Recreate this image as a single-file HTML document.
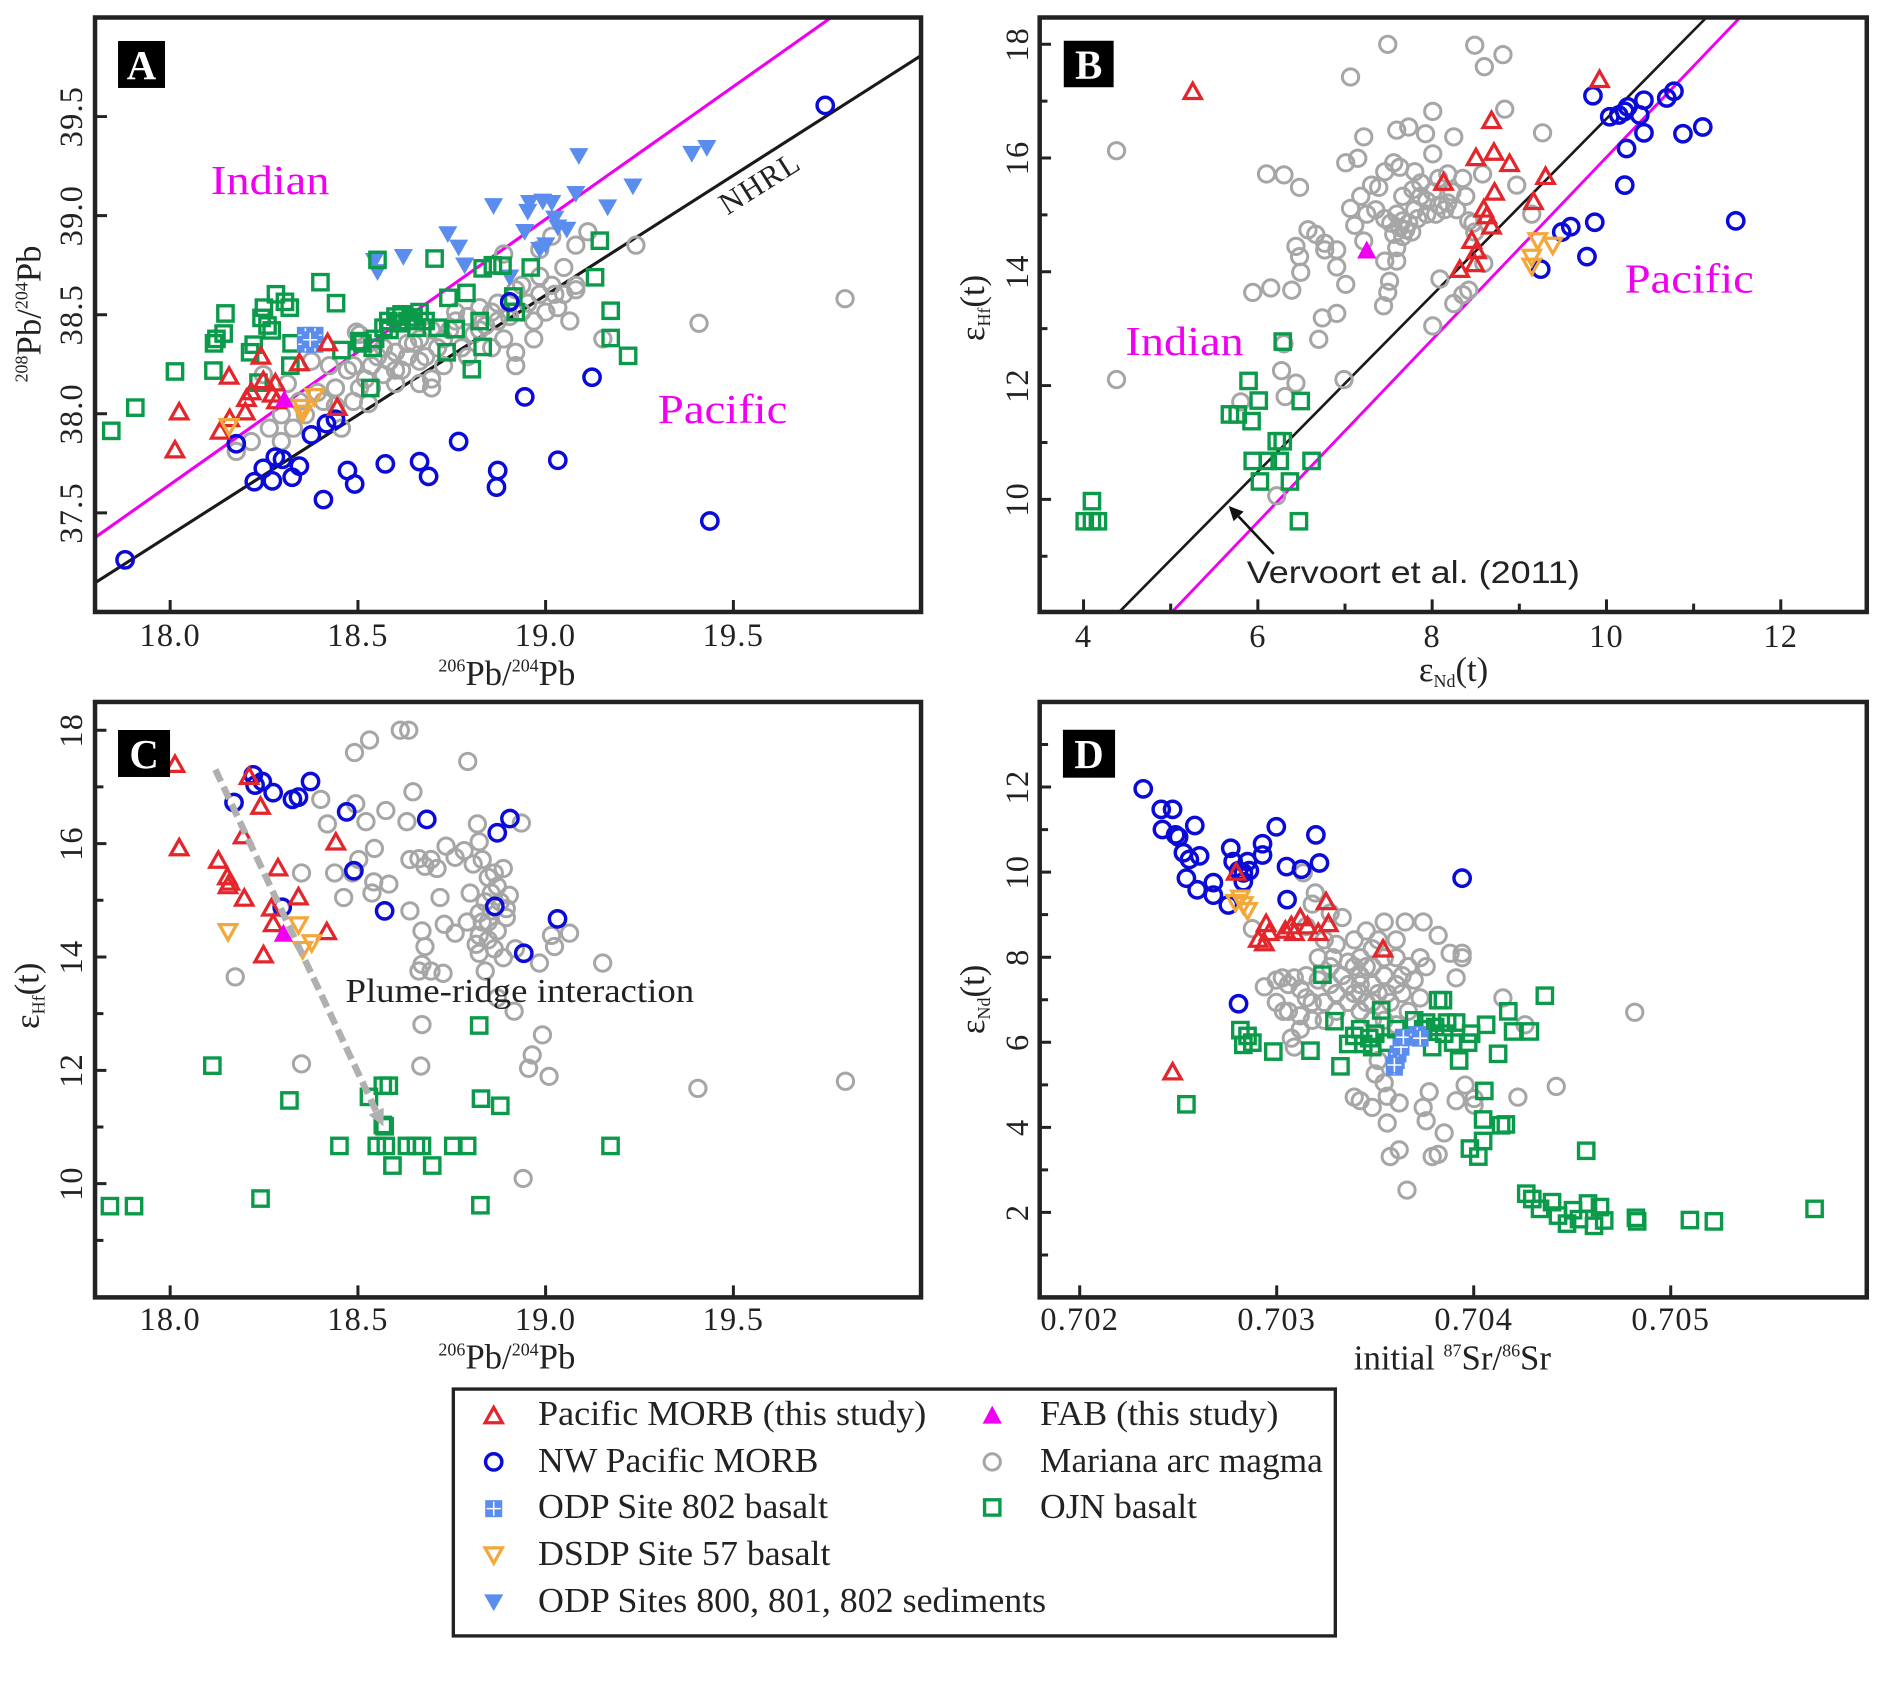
<!DOCTYPE html>
<html><head><meta charset="utf-8"><style>
html,body{margin:0;padding:0;background:#fff;}
svg{display:block;}
text{font-family:"Liberation Serif",serif;fill:#222;}
</style></head><body>
<svg id="s" width="1879" height="1686" viewBox="0 0 1568 1407" preserveAspectRatio="none" xmlns="http://www.w3.org/2000/svg">
<rect width="1568" height="1407" fill="#fff"/>
<defs>
<clipPath id="cA"><rect x="79.3" y="14.6" width="689.3" height="496.1"/></clipPath>
<clipPath id="cB"><rect x="867.6" y="14.6" width="690.2" height="496.1"/></clipPath>
<clipPath id="cC"><rect x="79.3" y="585.8" width="689.3" height="496.9"/></clipPath>
<clipPath id="cD"><rect x="867.6" y="585.8" width="690.2" height="496.9"/></clipPath>
</defs>

<g clip-path="url(#cA)">
<line x1="79.3" y1="448.6" x2="693.6" y2="14.6" stroke="#f000f0" stroke-width="2.6"/>
<line x1="79.3" y1="486.4" x2="768.6" y2="46.4" stroke="#1a1a1a" stroke-width="2.6"/>
</g>
<g clip-path="url(#cB)">
<line x1="934" y1="510.7" x2="1424" y2="14.6" stroke="#1a1a1a" stroke-width="2.2"/>
<line x1="978" y1="510.7" x2="1452" y2="14.6" stroke="#f000f0" stroke-width="2.4"/>
</g>

<g id="gA" clip-path="url(#cA)"></g>
<g id="gB" clip-path="url(#cB)"></g>
<g id="gC" clip-path="url(#cC)"></g>
<g id="gD" clip-path="url(#cD)"></g>

<line x1="179.7" y1="642.2" x2="313.9" y2="927.4" stroke="#b0b0b0" stroke-width="5.5" stroke-dasharray="11 5"/>
<polygon points="320,940 320.2,924.4 307.6,930.4" fill="#b0b0b0"/>

<line x1="1062.9" y1="462.2" x2="1033.6" y2="431" stroke="#111" stroke-width="2.2"/>
<polygon points="1025.4,422.3 1037.8,427.0 1029.4,435.0" fill="#111"/>

<g fill="none" stroke="#222" stroke-width="3.75">
<rect x="79.3" y="14.6" width="689.3" height="496.1"/>
<rect x="867.6" y="14.6" width="690.2" height="496.1"/>
<rect x="79.3" y="585.8" width="689.3" height="496.9"/>
<rect x="867.6" y="585.8" width="690.2" height="496.9"/>
</g>
<g id="ticks" stroke="#222" stroke-width="2.5" fill="none"></g>

<rect x="98.5" y="34.2" width="39.2" height="39.2" fill="#000"/>
<text x="118.1" y="66" text-anchor="middle" font-size="34" font-weight="bold" style="fill:#fff">A</text>
<rect x="887.7" y="34" width="41.6" height="38.8" fill="#000"/>
<text x="908.5" y="65.5" text-anchor="middle" font-size="34" font-weight="bold" style="fill:#fff">B</text>
<rect x="98.5" y="609.2" width="43.4" height="39.2" fill="#000"/>
<text x="120.2" y="641" text-anchor="middle" font-size="34" font-weight="bold" style="fill:#fff">C</text>
<rect x="887" y="609" width="43.5" height="40" fill="#000"/>
<text x="908.7" y="641" text-anchor="middle" font-size="34" font-weight="bold" style="fill:#fff">D</text>

<g font-size="27" text-anchor="middle" letter-spacing="1">
<text x="142" y="539">18.0</text><text x="298.7" y="539">18.5</text><text x="455.3" y="539">19.0</text><text x="612" y="539">19.5</text>
<text x="142" y="1110">18.0</text><text x="298.7" y="1110">18.5</text><text x="455.3" y="1110">19.0</text><text x="612" y="1110">19.5</text>
<text x="904.2" y="540">4</text><text x="1049.7" y="540">6</text><text x="1195.1" y="540">8</text><text x="1340.6" y="540">10</text><text x="1486" y="540">12</text>
<text x="901" y="1110">0.702</text><text x="1065.4" y="1110">0.703</text><text x="1229.8" y="1110">0.704</text><text x="1394.2" y="1110">0.705</text>
<text transform="translate(68.3,428) rotate(-90)">37.5</text>
<text transform="translate(68.3,345.3) rotate(-90)">38.0</text>
<text transform="translate(68.3,262.6) rotate(-90)">38.5</text>
<text transform="translate(68.3,179.9) rotate(-90)">39.0</text>
<text transform="translate(68.3,97.3) rotate(-90)">39.5</text>
<text transform="translate(858,416.7) rotate(-90)">10</text>
<text transform="translate(858,321.8) rotate(-90)">12</text>
<text transform="translate(858,226.8) rotate(-90)">14</text>
<text transform="translate(858,131.9) rotate(-90)">16</text>
<text transform="translate(858,37) rotate(-90)">18</text>
<text transform="translate(68.3,987.8) rotate(-90)">10</text>
<text transform="translate(68.3,893.2) rotate(-90)">12</text>
<text transform="translate(68.3,798.6) rotate(-90)">14</text>
<text transform="translate(68.3,704) rotate(-90)">16</text>
<text transform="translate(68.3,609.4) rotate(-90)">18</text>
<text transform="translate(858,1011.8) rotate(-90)">2</text>
<text transform="translate(858,940.8) rotate(-90)">4</text>
<text transform="translate(858,869.8) rotate(-90)">6</text>
<text transform="translate(858,798.8) rotate(-90)">8</text>
<text transform="translate(858,727.8) rotate(-90)">10</text>
<text transform="translate(858,656.8) rotate(-90)">12</text>
</g>

<g font-size="29" text-anchor="middle">
<text transform="translate(34,262) rotate(-90)"><tspan font-size="15" dy="-11">208</tspan><tspan dy="11">Pb/</tspan><tspan font-size="15" dy="-11">204</tspan><tspan dy="11">Pb</tspan></text>
<text x="423" y="571.5"><tspan font-size="15" dy="-11">206</tspan><tspan dy="11">Pb/</tspan><tspan font-size="15" dy="-11">204</tspan><tspan dy="11">Pb</tspan></text>
<text x="423" y="1142"><tspan font-size="15" dy="-11">206</tspan><tspan dy="11">Pb/</tspan><tspan font-size="15" dy="-11">204</tspan><tspan dy="11">Pb</tspan></text>
<text x="1213" y="568.5">ε<tspan font-size="15" dy="5">Nd</tspan><tspan dy="-5">(t)</tspan></text>
<text transform="translate(821,257) rotate(-90)">ε<tspan font-size="15" dy="5">Hf</tspan><tspan dy="-5">(t)</tspan></text>
<text transform="translate(32,831) rotate(-90)">ε<tspan font-size="15" dy="5">Hf</tspan><tspan dy="-5">(t)</tspan></text>
<text transform="translate(821,834) rotate(-90)">ε<tspan font-size="15" dy="5">Nd</tspan><tspan dy="-5">(t)</tspan></text>
<text x="1212" y="1143">initial <tspan font-size="15" dy="-11">87</tspan><tspan dy="11">Sr/</tspan><tspan font-size="15" dy="-11">86</tspan><tspan dy="11">Sr</tspan></text>
</g>

<text x="176" y="161.7" font-size="34" style="fill:#f000f0" textLength="99" lengthAdjust="spacingAndGlyphs">Indian</text>
<text x="549" y="352.8" font-size="34" style="fill:#f000f0" textLength="108" lengthAdjust="spacingAndGlyphs">Pacific</text>
<text transform="translate(638.5,159.9) rotate(-32.4)" text-anchor="middle" font-size="26" letter-spacing="1">NHRL</text>
<text x="939.2" y="296.2" font-size="34" style="fill:#f000f0" textLength="98.6" lengthAdjust="spacingAndGlyphs">Indian</text>
<text x="1355.8" y="244" font-size="34" style="fill:#f000f0" textLength="107.7" lengthAdjust="spacingAndGlyphs">Pacific</text>
<text x="1040.4" y="486.5" font-size="26" style="font-family:'Liberation Sans',sans-serif;fill:#222" textLength="278" lengthAdjust="spacingAndGlyphs">Vervoort et al. (2011)</text>
<text x="288.3" y="836.4" font-size="28" textLength="291" lengthAdjust="spacingAndGlyphs">Plume-ridge interaction</text>

<rect x="378.3" y="1159.2" width="736" height="206" fill="none" stroke="#222" stroke-width="2.8"/>
<g id="gL"></g>
<g font-size="29">
<text x="449" y="1189.2" textLength="324" lengthAdjust="spacingAndGlyphs">Pacific MORB (this study)</text>
<text x="449" y="1228.4" textLength="234" lengthAdjust="spacingAndGlyphs">NW Pacific MORB</text>
<text x="449" y="1266.8" textLength="242" lengthAdjust="spacingAndGlyphs">ODP Site 802 basalt</text>
<text x="449" y="1306" textLength="244" lengthAdjust="spacingAndGlyphs">DSDP Site 57 basalt</text>
<text x="449" y="1345.2" textLength="424" lengthAdjust="spacingAndGlyphs">ODP Sites 800, 801, 802 sediments</text>
<text x="867.9" y="1189.2" textLength="199" lengthAdjust="spacingAndGlyphs">FAB (this study)</text>
<text x="867.9" y="1228.4" textLength="236" lengthAdjust="spacingAndGlyphs">Mariana arc magma</text>
<text x="867.9" y="1266.8" textLength="131" lengthAdjust="spacingAndGlyphs">OJN basalt</text>
</g>
</svg>
<script>
(function(){
var NS='http://www.w3.org/2000/svg';
function el(p,tag,a){var e=document.createElementNS(NS,tag);for(var k in a)e.setAttribute(k,a[k]);p.appendChild(e);return e;}
var M={A:[142,285,0.5015,97.3,262,0.3725],B:[904.2,238,0.5007,37,100,0.3730],C:[142,287,0.5027,609.4,90,0.3722],D:[901,232,0.5002,656.8,218,0.3729]};
function mp(p,z){var m=M[p];return [m[0]+(z[0]-m[1])*m[2],m[3]+(z[1]-m[4])*m[5]];}
var COL={red:'#e3262b',blue:'#0b0bd8',green:'#0a9a4a',gray:'#a6a6a6',mag:'#f000f0',org:'#f2a83a',lb:'#5b8def'};
function circ(g,x,y,col,sw){el(g,'circle',{cx:x,cy:y,r:6.8,fill:'none',stroke:col,'stroke-width':sw});}
function sq(g,x,y){el(g,'rect',{x:x-6.4,y:y-6.4,width:12.8,height:12.8,fill:'none',stroke:COL.green,'stroke-width':2.8});}
function tri(g,x,y){el(g,'polygon',{points:x+','+(y-7.5)+' '+(x+7.2)+','+(y+5.3)+' '+(x-7.2)+','+(y+5.3),fill:'none',stroke:COL.red,'stroke-width':2.7});}
function itri(g,x,y){el(g,'polygon',{points:x+','+(y+7.5)+' '+(x+7.2)+','+(y-5.3)+' '+(x-7.2)+','+(y-5.3),fill:'none',stroke:COL.org,'stroke-width':2.7});}
function ftri(g,x,y){el(g,'polygon',{points:x+','+(y-9)+' '+(x+8)+','+(y+6)+' '+(x-8)+','+(y+6),fill:COL.mag});}
function dtri(g,x,y){el(g,'polygon',{points:x+','+(y+7.5)+' '+(x+8)+','+(y-6.5)+' '+(x-8)+','+(y-6.5),fill:COL.lb});}
function gsq(g,x,y){el(g,'rect',{x:x-6.5,y:y-6.5,width:13,height:13,fill:COL.lb});
 el(g,'path',{d:'M'+(x-6.5)+' '+y+'H'+(x+6.5)+'M'+x+' '+(y-6.5)+'V'+(y+6.5),stroke:'#fff','stroke-width':1.3});
 el(g,'rect',{x:x-6.5,y:y-6.5,width:13,height:13,fill:'none',stroke:COL.lb,'stroke-width':1.2});}
function draw(p,arr,fn,col,sw){var g=document.getElementById('g'+p);for(var i=0;i<arr.length;i++){var q=mp(p,arr[i]);fn(g,q[0],q[1],col,sw);}}

var grayA=[[395,1012],[470,990],[490,960],[510,930],[540,900],[560,870],[570,960],[550,820],[590,900],[600,870],[610,850],[600,750],[620,820],[630,800],[640,840],[650,810],[660,790],[670,830],[680,800],[690,770],[700,760],[710,800],[720,850],[730,780],[740,760],[750,740],[760,720],[770,780],[780,710],[790,750],[800,690],[810,730],[820,700],[830,680],[840,760],[850,710],[860,820],[870,700],[880,680],[890,720],[900,660],[910,700],[920,640],[930,690],[940,660],[950,720],[960,650],[870,640],[900,560],[920,530],[960,550],[980,520],[840,570],[1060,550],[1005,760],[1165,725],[1408,670],[440,840],[480,860],[520,810],[560,870],[580,830],[615,905],[660,830],[700,860],[720,870],[925,660],[890,760],[860,790],[595,745],[640,780],[680,770],[720,740],[760,700],[800,740],[820,780],[780,800],[740,820],[700,810],[660,860],[620,870],[590,820],[560,910],[530,880],[500,900],[470,930],[450,960],[420,990],[900,620],[940,600],[960,640],[860,650],[830,720],[850,680]];
var greenA=[[187,966],[227,914],[293,833],[357,831],[358,770],[362,760],[374,748],[377,703],[418,790],[424,773],[432,858],[437,713],[441,690],[447,730],[454,741],[461,660],[476,677],[484,690],[487,770],[485,820],[535,633],[561,680],[570,785],[618,870],[600,765],[605,770],[630,583],[622,780],[626,760],[640,735],[648,720],[660,710],[670,705],[680,720],[690,712],[700,700],[710,720],[725,580],[730,735],[745,790],[748,668],[760,738],[778,657],[787,828],[800,720],[805,778],[805,602],[822,595],[838,596],[856,665],[885,600],[992,622],[1000,540],[1018,697],[1018,758],[1047,798],[860,700],[650,740],[665,725],[695,735]];
var lbtA=[[823,462],[625,585],[630,610],[673,576],[747,525],[765,555],[775,595],[850,622],[880,475],[883,455],[905,452],[920,455],[925,490],[910,550],[900,560],[945,515],[960,435],[965,350],[1013,465],[1055,418],[1153,345],[1178,332],[875,520],[930,510]];
var lbsA=[[510,752],[526,752],[510,772],[526,772],[518,762]];
var blueA=[[1375,237],[210,1255],[395,995],[850,677],[987,846],[875,890],[425,1080],[440,1050],[460,1025],[455,1078],[472,1030],[488,1070],[500,1045],[520,975],[545,950],[560,940],[540,1120],[580,1055],[592,1085],[643,1040],[700,1035],[715,1068],[765,990],[830,1055],[828,1092],[930,1032],[1183,1168]];
var redA=[[293,1010],[300,925],[383,845],[368,968],[384,940],[410,925],[412,895],[420,880],[436,800],[440,855],[455,885],[460,860],[500,815],[547,770],[563,915],[462,900]];
var orgA=[[383,955],[505,912],[525,888],[505,925]];
draw('A',grayA,circ,COL.gray,2.5);
draw('A',lbtA,dtri);
draw('A',greenA,sq);
draw('A',lbsA,gsq);
draw('A',blueA,circ,COL.blue,2.9);
draw('A',redA,tri);
draw('A',orgA,itri);
draw('A',[[475,898]],ftri);

var grayB=[[293,338],[293,850],[745,100],[890,102],[906,150],[937,123],[683,173],[820,250],[940,245],[1003,298],[705,307],[855,307],[543,390],[572,392],[598,420],[675,365],[695,355],[760,292],[780,285],[808,300],[730,420],[740,385],[755,365],[765,375],[790,385],[800,410],[820,345],[830,400],[845,390],[852,430],[870,400],[612,515],[625,525],[592,552],[598,575],[640,560],[660,560],[683,467],[690,505],[710,480],[725,470],[740,490],[750,500],[760,480],[770,495],[775,515],[785,520],[790,470],[800,440],[810,450],[820,430],[830,460],[840,470],[760,555],[760,585],[740,585],[748,630],[745,655],[738,685],[675,637],[660,598],[636,712],[660,702],[630,760],[520,655],[550,645],[585,650],[600,610],[672,850],[820,730],[832,625],[855,680],[870,660],[880,650],[887,500],[903,390],[960,415],[985,480],[572,770],[568,830],[592,858],[574,888],[500,900],[560,1110],[770,440],[787,425],[700,440],[718,415],[765,510],[780,500],[795,490],[755,525],[770,530],[810,480],[825,480],[845,455],[860,470],[880,495],[890,520],[875,440],[905,590],[640,545],[705,540]];
var greenB=[[252,1122],[240,1167],[252,1167],[262,1167],[570,765],[513,853],[530,897],[600,898],[482,928],[495,928],[518,943],[560,988],[570,988],[520,1032],[545,1032],[565,1032],[618,1032],[532,1078],[582,1078],[597,1167]];
var blueB=[[1087,215],[1115,262],[1130,258],[1140,250],[1145,240],[1172,225],[1165,258],[1210,220],[1222,205],[1270,285],[1237,300],[1172,298],[1143,333],[1140,415],[1325,495],[1090,498],[1050,508],[1035,520],[1077,575],[1000,603]];
var redB=[[420,207],[1098,180],[918,272],[892,355],[922,343],[948,368],[838,410],[1008,397],[988,453],[923,432],[905,470],[910,485],[918,508],[885,540],[893,563],[890,592],[865,605]];
var orgB=[[995,538],[1020,548],[985,575],[985,595]];
draw('B',grayB,circ,COL.gray,2.5);
draw('B',greenB,sq);
draw('B',blueB,circ,COL.blue,2.9);
draw('B',redB,tri);
draw('B',orgB,itri);
draw('B',[[710,563]],ftri);

var grayC=[[395,643],[505,838],[593,140],[618,112],[669,90],[683,90],[781,160],[690,228],[537,245],[548,300],[595,255],[612,295],[645,270],[680,295],[797,300],[800,340],[870,298],[626,355],[600,380],[590,410],[560,410],[575,465],[505,410],[625,430],[650,435],[622,455],[685,380],[700,378],[710,395],[720,380],[730,400],[745,350],[760,375],[775,360],[790,390],[805,380],[815,420],[825,410],[830,440],[840,400],[850,460],[820,455],[810,475],[800,500],[815,520],[830,540],[845,510],[800,550],[785,455],[780,520],[735,465],[685,495],[705,540],[710,575],[742,525],[760,545],[705,615],[795,570],[800,590],[840,600],[860,580],[900,612],[920,550],[925,575],[950,545],[1005,612],[705,750],[703,843],[905,773],[888,818],[882,848],[916,866],[873,1095],[1163,893],[1408,877],[858,720],[830,690],[740,635],[810,630],[700,630],[720,630],[835,475],[845,490],[820,495],[805,520],[815,560],[825,580]];
var greenC=[[187,1157],[227,1157],[357,842],[437,1140],[485,920],[568,1022],[617,912],[640,887],[650,887],[640,975],[643,978],[630,1022],[645,1022],[656,1066],[680,1022],[695,1022],[705,1022],[722,1066],[757,1022],[780,1022],[800,752],[803,916],[835,932],[802,1155],[1018,1022]];
var blueC=[[393,252],[425,190],[428,213],[440,205],[458,230],[490,245],[500,240],[520,205],[580,273],[592,405],[643,495],[473,487],[713,290],[830,320],[851,288],[826,485],[874,590],[930,513]];
var redC=[[295,168],[302,355],[367,383],[382,420],[386,432],[383,440],[410,468],[408,328],[418,195],[437,262],[466,400],[500,465],[455,490],[458,525],[547,543],[442,595],[562,342]];
var orgC=[[383,540],[500,525],[507,580],[522,565]];
draw('C',grayC,circ,COL.gray,2.5);
draw('C',greenC,sq);
draw('C',blueC,circ,COL.blue,2.9);
draw('C',redC,tri);
draw('C',orgC,itri);
draw('C',[[475,548]],ftri);

var grayD=[[520,535],[540,665],[560,650],[570,645],[580,660],[590,645],[600,670],[610,690],[620,700],[580,720],[600,730],[620,740],[640,700],[660,680],[680,660],[700,640],[720,620],[740,640],[760,660],[680,610],[700,600],[720,580],[660,570],[640,560],[630,600],[650,620],[670,640],[690,680],[710,700],[730,680],[750,700],[770,680],[690,560],[710,540],[740,520],[775,520],[805,520],[830,550],[850,590],[870,590],[860,645],[810,620],[790,650],[800,690],[780,720],[760,750],[740,740],[720,740],[700,720],[660,720],[640,740],[600,760],[585,780],[620,480],[650,500],[670,510],[610,530],[625,455],[605,410],[572,720],[590,800],[730,830],[725,860],[740,880],[745,910],[700,920],[690,912],[720,935],[745,970],[765,925],[805,935],[810,965],[815,900],[860,920],[875,885],[890,915],[890,930],[963,912],[938,690],[975,750],[1027,888],[1158,722],[840,992],[830,1040],[820,1045],[765,1030],[750,1045],[778,1120],[870,600],[700,660],[720,660],[740,600],[760,600],[680,700],[650,660],[710,620],[690,620],[730,560],[760,560],[780,620],[800,600],[560,700],[610,640],[630,650],[655,600],[700,680],[720,700],[745,680],[770,640]];
var greenD=[[637,638],[410,928],[500,762],[512,775],[505,795],[520,790],[555,810],[617,808],[657,742],[667,843],[680,793],[700,760],[705,793],[715,780],[725,770],[735,718],[745,790],[760,760],[790,740],[805,760],[820,800],[830,695],[838,695],[845,745],[860,745],[855,790],[865,830],[880,790],[885,770],[910,750],[930,815],[947,720],[955,765],[983,765],[1008,685],[907,898],[905,962],[935,975],[943,973],[883,1027],[897,1045],[905,1010],[1077,1032],[977,1128],[987,1140],[1000,1162],[1020,1147],[1030,1177],[1045,1195],[1055,1165],[1065,1185],[1080,1150],[1090,1200],[1100,1158],[1107,1188],[1160,1182],[1162,1190],[1250,1187],[1290,1190],[1458,1162],[690,775],[720,800],[810,745],[825,755],[840,770]];
var lbsD=[[757,845],[760,830],[763,815],[768,800],[772,778],[795,772],[800,780],[757,840]];
var blueD=[[338,222],[368,268],[387,268],[370,313],[392,325],[397,330],[424,304],[432,372],[405,365],[415,380],[410,422],[428,448],[455,432],[455,460],[480,482],[484,355],[488,385],[497,405],[505,410],[512,385],[515,405],[505,430],[537,345],[537,370],[560,307],[577,396],[602,402],[578,470],[626,325],[632,388],[497,703],[870,422]];
var redD=[[493,410],[387,857],[540,568],[543,525],[548,545],[575,540],[590,545],[600,512],[612,530],[630,545],[647,525],[643,476],[738,582],[530,560],[585,530]];
var orgD=[[500,465],[505,480],[512,493],[492,475]];
draw('D',grayD,circ,COL.gray,2.5);
draw('D',greenD,sq);
draw('D',lbsD,gsq);
draw('D',blueD,circ,COL.blue,2.9);
draw('D',redD,tri);
draw('D',orgD,itri);

var T=document.getElementById('ticks');var d='';
function vt(x,yb,len){d+='M'+x+' '+yb+'V'+(yb-len);}
function htk(xl,y,len){d+='M'+xl+' '+y+'H'+(xl+len);}
[142,298.7,455.3,612].forEach(function(x){vt(x,510.7,10);vt(x,1082.7,10);});
[37.5,38,38.5,39,39.5].forEach(function(v){htk(79.3,510.7-(v-37)*165.37,10);});
for(var v=4;v<=12;v++){vt(904.2+(v-4)*72.73,510.7,(v%2==0)?10.5:7);}
for(var v=9;v<=18;v++){htk(867.6,416.7-(v-10)*47.47,(v%2==0)?9.5:6.5);}
for(var v=9;v<=18;v++){htk(79.3,609.4+(18-v)*47.3,(v%2==0)?9.5:7);}
[901,1065.4,1229.8,1394.2].forEach(function(x){vt(x,1082.7,10);});
for(var v=1;v<=13;v++){htk(867.6,1082.8-35.5*v,(v%2==0)?9.5:7);}
el(T,'path',{d:d});

var L=document.getElementById('gL');
tri(L,412,1182);circ(L,412,1220,COL.blue,2.9);gsq(L,412,1259);itri(L,412,1297);dtri(L,412,1337);
ftri(L,828,1182);circ(L,828,1220,COL.gray,2.5);sq(L,828,1258);
})();
</script>
</body></html>
